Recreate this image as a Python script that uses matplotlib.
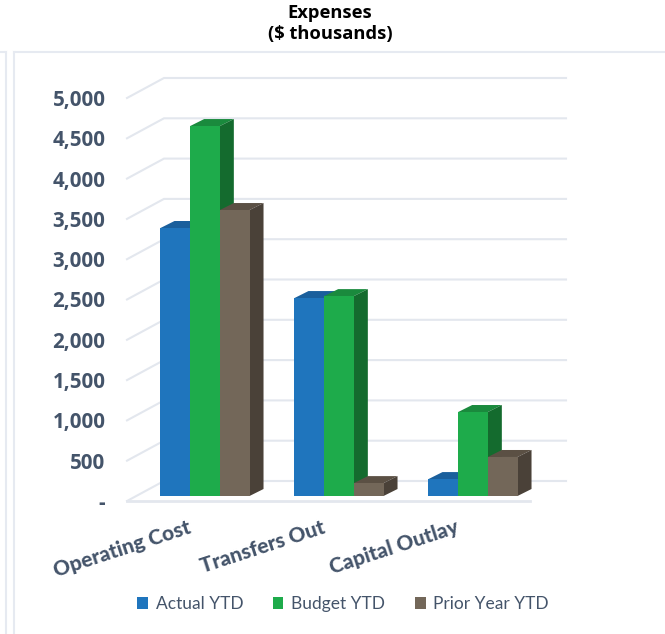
import matplotlib
matplotlib.use('Agg')
import matplotlib.pyplot as plt
from matplotlib.lines import Line2D
from matplotlib.patches import Polygon
from matplotlib.transforms import offset_copy, ScaledTranslation

categories = ['Operating Cost', 'Transfers Out', 'Capital Outlay']
actual_ytd = [3325, 2456, 210]
budget_ytd = [4590, 2480, 1042]
prior_ytd = [3548, 160, 484]
y_ticks = [0, 500, 1000, 1500, 2000, 2500, 3000, 3500, 4000, 4500, 5000]
y_labels = ['-', '500', '1,000', '1,500', '2,000', '2,500', '3,000', '3,500', '4,000', '4,500', '5,000']

W, H = 665, 634
fig = plt.figure(figsize=(W / 100, H / 100), dpi=100, facecolor='white')

# axes sits on the front edge of the wall, one unit of x is one group
left, right, top, bottom = 127, 566, 98, 501
ax = fig.add_axes([left / W, 1 - bottom / H, (right - left) / W, (bottom - top) / H])
px_x = 1 / 134
px_y = 5000 / (bottom - top)
ax.set_xlim((left - 205) * px_x, (right - 205) * px_x)
ax.set_ylim(0, 5000)
ax.patch.set_alpha(0)
for s in ax.spines.values():
    s.set_visible(False)

# wall and floor lines
grid_col = '#E3E7EE'
x0 = ax.get_xlim()[0]
x1 = ax.get_xlim()[1]
back_x = x0 + 37 * px_x
back_y = 20 * px_y
for v in y_ticks:
    ax.plot([x0, back_x, x1], [v, v + back_y, v + back_y], color=grid_col, lw=1.5,
            clip_on=False, zorder=1, solid_joinstyle='miter')
ax.plot([x0, x0 + 403 * px_x], [0, 0], color=grid_col, lw=2, clip_on=False, zorder=1)

# the 3d columns
bar_w = 0.2215
depth_x = 14 * px_x
depth_y = 7 * px_y
lift = offset_copy(ax.transData, fig=fig, x=0, y=5, units='dots')
series = [
    ('Actual YTD', actual_ytd, '#1F75BD', '#1A5F9C', '#185A94'),
    ('Budget YTD', budget_ytd, '#1EAB4B', '#1A8A3D', '#146B2E'),
    ('Prior Year YTD', prior_ytd, '#736759', '#5B5044', '#4A4138'),
]
handles = []
for i, (name, vals, front, top_c, side) in enumerate(series):
    z = 2 + i
    for c, v in enumerate(vals):
        xl = c + (i - 1.5) * bar_w
        xr = xl + bar_w
        ax.add_patch(Polygon([(xl, v), (xr, v), (xr + depth_x, v + depth_y), (xl + depth_x, v + depth_y)],
                             color=top_c, lw=0, transform=lift, clip_on=False, zorder=z))
        ax.add_patch(Polygon([(xr, 0), (xr + depth_x, depth_y), (xr + depth_x, v + depth_y), (xr, v)],
                             color=side, lw=0, transform=lift, clip_on=False, zorder=z))
    bars = ax.bar([c + (i - 1) * bar_w for c in range(3)], vals, bar_w, color=front, label=name,
                  transform=lift, clip_on=False, zorder=z + 0.5)
    handles.append(bars)
ax.set_xlim(x0, x1)
ax.set_ylim(0, 5000)

ax.set_yticks(y_ticks)
ax.set_yticklabels(y_labels, family='Open Sans', fontweight='bold', fontsize=14.8, color='#44546A')
ax.tick_params(axis='y', length=0, pad=15.5)

ax.set_xticks(range(3))
ax.tick_params(axis='x', length=0, pad=12)
ax.set_xticklabels(categories, family='Lato', fontweight='black', fontsize=15, color='#44546A',
                   rotation=18, ha='right', rotation_mode='anchor')
shift = ScaledTranslation(-18 / 100, 0, fig.dpi_scale_trans)
for t in ax.get_xticklabels():
    t.set_transform(t.get_transform() + shift)

fig.text(330 / W, 1 - 23.5 / H, 'Expenses\n($ thousands)', ha='center', va='center', family='Open Sans',
         fontweight='bold', fontsize=13.2, color='black', linespacing=1.22)

fig.legend(handles=handles, labels=[s[0] for s in series], loc='center', ncol=3,
           bbox_to_anchor=(343 / W, 1 - 604 / H), frameon=False,
           prop={'family': 'Lato', 'size': 12.5}, labelcolor='#44546A',
           handlelength=0.62, handleheight=0.62, handletextpad=0.45, columnspacing=1.7)

# panel borders from the dashboard this was cut out of
panel_col = '#E6EAF1'
for xs, ys in [([14, 14], [634, 52]), ([14, 665], [52, 52]), ([6, 6], [634, 52]), ([0, 6], [52, 52])]:
    fig.add_artist(Line2D([x / W for x in xs], [1 - y / H for y in ys], color=panel_col, lw=1.5))

fig.savefig('out.png', dpi=100)
